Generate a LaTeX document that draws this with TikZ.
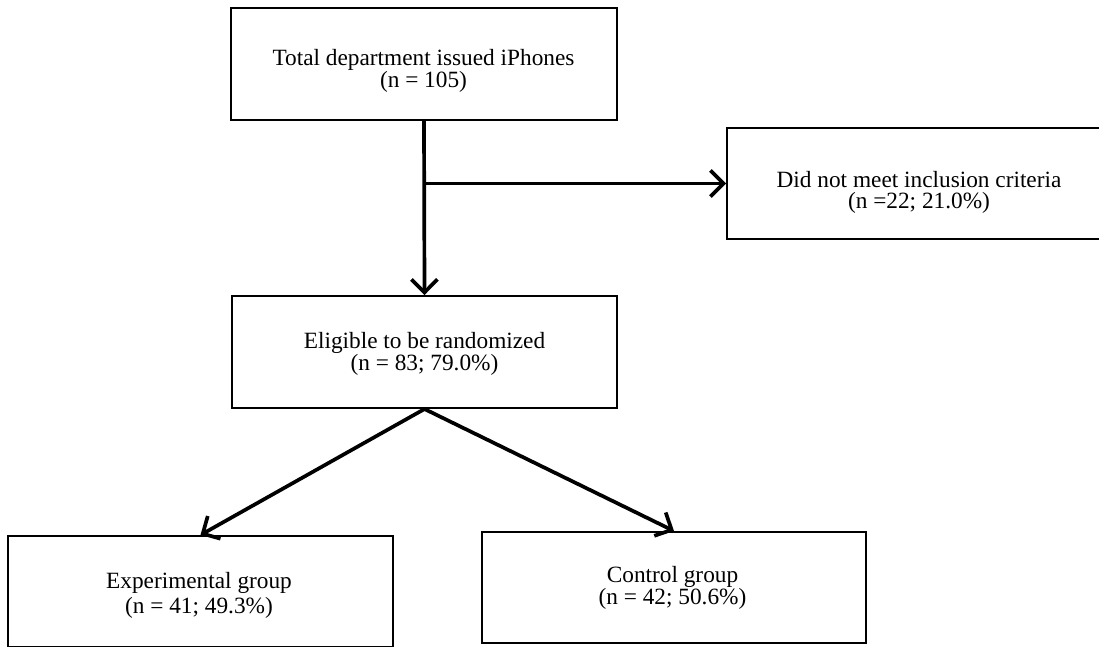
\documentclass[tikz,border=0pt]{standalone}
\usepackage{fontspec}
\setmainfont{Liberation Serif}
\usetikzlibrary{arrows.meta}
\begin{document}
\begin{tikzpicture}[x=1pt,y=-1pt,
  box/.style={draw, line width=2pt, inner sep=0pt},
  txt/.style={align=center, inner sep=0pt, font=\fontsize{23.3}{#1}\selectfont},
  txt/.default=19,
  conn/.style={line width=3.7pt, -{Straight Barb[length=13pt,width=26pt]}}]
\useasboundingbox (0,0) rectangle (1099,646);
\clip (0,0) rectangle (1099,646);
% boxes
\node[box, minimum width=386pt, minimum height=112pt] (total) at (424,64) {};
\node[box, minimum width=384pt, minimum height=111pt] (excl) at (919,183.5) {};
\node[box, minimum width=385pt, minimum height=112pt] (elig) at (424.5,352) {};
\node[box, minimum width=385pt, minimum height=111pt] (exp) at (200.5,591.5) {};
\node[box, minimum width=384pt, minimum height=111pt] (ctrl) at (674,587.5) {};
% texts
\node[txt=18.5] (total-t) at (423.5,70.5) {Total department issued iPhones\\(n = 105)};
\node[txt=21.5] (excl-t) at (919,192.2) {Did not meet inclusion criteria\\(n =22; 21.0\%)};
\node[txt=21.7] (elig-t) at (424.5,353.9) {Eligible to be randomized\\(n = 83; 79.0\%)};
\node[txt=25] (exp-t) at (199,595.2) {Experimental group\\(n = 41; 49.3\%)};
\node[txt=17.5] (ctrl-t) at (672.5,588.2) {Control group\\(n = 42; 50.6\%)};
% connectors
\coordinate (branch) at (total.south |- excl.west);
\draw[conn] (total.south) -- (elig.north);
\draw[conn] (branch) -- (excl.west);
\draw[conn] (elig.south) -- (exp.north);
\draw[conn] (elig.south) -- (ctrl.north);
\end{tikzpicture}
\end{document}
